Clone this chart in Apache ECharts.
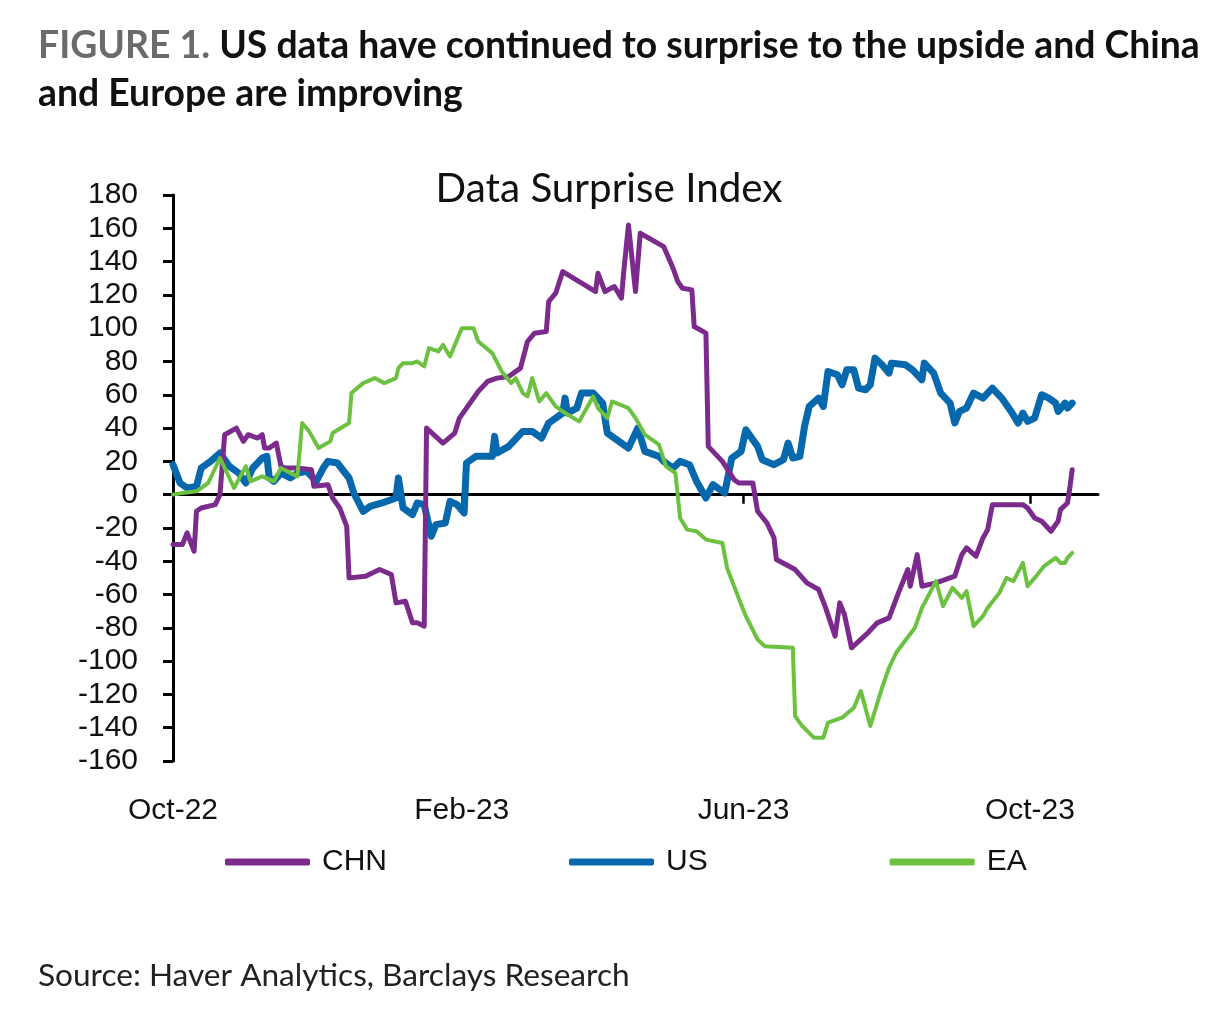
<!DOCTYPE html>
<html><head><meta charset="utf-8">
<script src="https://cdn.jsdelivr.net/npm/echarts@6/dist/echarts.min.js"></script>
<style>html,body{margin:0;padding:0;background:#fff}#c{width:1230px;height:1027px}</style>
</head><body><div id="c"></div>
<script>
// ---- data ----
const tickDates = ['2022-10-01','2023-02-01','2023-06-01','2023-10-01'];
const tickLabels = ['Oct-22','Feb-23','Jun-23','Oct-23'];
const axisStart = '2022-10-01';
const axisEnd = '2023-10-30';
const seriesNames = ['CHN', 'US', 'EA'];

const chnDates = ['2022-10-01','2022-10-05','2022-10-07','2022-10-10','2022-10-11','2022-10-13','2022-10-19','2022-10-21','2022-10-23','2022-10-28','2022-10-31','2022-11-02','2022-11-06','2022-11-08','2022-11-09','2022-11-11','2022-11-14','2022-11-16','2022-11-18','2022-11-23','2022-11-29','2022-11-30','2022-12-06','2022-12-08','2022-12-11','2022-12-14','2022-12-15','2022-12-22','2022-12-28','2023-01-02','2023-01-04','2023-01-08','2023-01-11','2023-01-13','2023-01-16','2023-01-17','2023-01-24','2023-01-29','2023-01-31','2023-02-03','2023-02-08','2023-02-12','2023-02-16','2023-02-21','2023-02-26','2023-03-01','2023-03-04','2023-03-09','2023-03-10','2023-03-13','2023-03-16','2023-03-30','2023-03-31','2023-04-03','2023-04-07','2023-04-10','2023-04-11','2023-04-13','2023-04-16','2023-04-18','2023-04-28','2023-05-02','2023-05-04','2023-05-06','2023-05-10','2023-05-11','2023-05-16','2023-05-17','2023-05-23','2023-05-28','2023-05-30','2023-06-05','2023-06-07','2023-06-11','2023-06-14','2023-06-15','2023-06-23','2023-06-28','2023-07-03','2023-07-06','2023-07-10','2023-07-12','2023-07-14','2023-07-17','2023-07-24','2023-07-28','2023-08-02','2023-08-06','2023-08-10','2023-08-11','2023-08-14','2023-08-16','2023-08-22','2023-08-30','2023-09-02','2023-09-04','2023-09-08','2023-09-11','2023-09-13','2023-09-15','2023-09-28','2023-09-30','2023-10-03','2023-10-06','2023-10-10','2023-10-13','2023-10-14','2023-10-17','2023-10-18','2023-10-19'];
const chnValues = [-30,-30,-23,-34,-10,-8,-6,0,36,40,32,36,34,36,28,28,31,17,16,16,15,5,6,-2,-8,-19,-50,-49,-45,-48,-65,-64,-77,-77,-79,40,31,37,46,52,62,68,70,71,76,92,97,98,116,121,134,122,133,122,125,118,134,162,122,157,149,136,128,124,123,101,97,29,20,9,7,7,-10,-17,-26,-39,-45,-53,-57,-68,-85,-65,-72,-92,-83,-77,-74,-59,-45,-55,-36,-55,-53,-49,-36,-32,-37,-26,-21,-6,-6,-8,-14,-16,-22,-16,-9,-5,4,15];

const usDates = ['2022-10-01','2022-10-04','2022-10-07','2022-10-11','2022-10-13','2022-10-17','2022-10-21','2022-10-25','2022-10-29','2022-11-01','2022-11-04','2022-11-08','2022-11-10','2022-11-11','2022-11-13','2022-11-16','2022-11-20','2022-11-23','2022-11-27','2022-12-01','2022-12-04','2022-12-06','2022-12-10','2022-12-15','2022-12-17','2022-12-21','2022-12-24','2022-12-29','2023-01-04','2023-01-05','2023-01-07','2023-01-11','2023-01-13','2023-01-16','2023-01-19','2023-01-21','2023-01-25','2023-01-27','2023-01-30','2023-02-02','2023-02-03','2023-02-07','2023-02-14','2023-02-15','2023-02-16','2023-02-21','2023-02-27','2023-03-03','2023-03-07','2023-03-10','2023-03-16','2023-03-17','2023-03-18','2023-03-22','2023-03-24','2023-03-29','2023-04-02','2023-04-04','2023-04-13','2023-04-17','2023-04-20','2023-04-26','2023-04-28','2023-05-02','2023-05-05','2023-05-09','2023-05-12','2023-05-16','2023-05-19','2023-05-24','2023-05-27','2023-05-31','2023-06-02','2023-06-07','2023-06-09','2023-06-14','2023-06-18','2023-06-20','2023-06-22','2023-06-25','2023-06-27','2023-06-29','2023-07-03','2023-07-05','2023-07-07','2023-07-11','2023-07-13','2023-07-15','2023-07-18','2023-07-20','2023-07-23','2023-07-25','2023-07-27','2023-07-30','2023-08-02','2023-08-03','2023-08-09','2023-08-12','2023-08-16','2023-08-17','2023-08-21','2023-08-24','2023-08-28','2023-08-30','2023-09-01','2023-09-04','2023-09-07','2023-09-11','2023-09-15','2023-09-19','2023-09-23','2023-09-26','2023-09-28','2023-09-30','2023-10-03','2023-10-06','2023-10-09','2023-10-12','2023-10-13','2023-10-16','2023-10-17','2023-10-19'];
const usValues = [18,7,4,5,16,20,25,17,13,7,16,22,23,10,8,13,10,13,14,8,16,20,19,10,1,-10,-7,-5,-2,10,-8,-12,-5,-6,-25,-18,-17,-4,-6,-11,19,23,23,35,25,29,38,38,34,43,49,58,49,52,61,61,55,37,28,40,26,23,20,16,20,18,8,-2,6,1,22,26,39,29,21,18,21,31,22,23,41,53,58,53,74,72,66,75,75,64,63,66,82,78,73,79,78,75,69,79,73,61,55,43,50,52,61,58,64,58,50,43,49,44,46,60,58,55,50,55,52,55];

const eaDates = ['2022-10-01','2022-10-05','2022-10-11','2022-10-16','2022-10-21','2022-10-24','2022-10-27','2022-11-01','2022-11-03','2022-11-08','2022-11-13','2022-11-16','2022-11-20','2022-11-23','2022-11-25','2022-11-28','2022-12-02','2022-12-07','2022-12-08','2022-12-15','2022-12-16','2022-12-21','2022-12-26','2022-12-30','2023-01-04','2023-01-05','2023-01-07','2023-01-11','2023-01-13','2023-01-16','2023-01-18','2023-01-22','2023-01-24','2023-01-27','2023-02-01','2023-02-06','2023-02-08','2023-02-14','2023-02-18','2023-02-22','2023-02-24','2023-02-27','2023-03-01','2023-03-03','2023-03-06','2023-03-09','2023-03-13','2023-03-17','2023-03-23','2023-03-29','2023-03-31','2023-04-04','2023-04-06','2023-04-13','2023-04-16','2023-04-20','2023-04-26','2023-04-29','2023-05-03','2023-05-05','2023-05-08','2023-05-12','2023-05-16','2023-05-23','2023-05-25','2023-05-31','2023-06-02','2023-06-07','2023-06-10','2023-06-22','2023-06-23','2023-06-26','2023-07-01','2023-07-05','2023-07-07','2023-07-13','2023-07-18','2023-07-21','2023-07-25','2023-07-30','2023-08-02','2023-08-05','2023-08-13','2023-08-16','2023-08-22','2023-08-25','2023-08-29','2023-09-02','2023-09-04','2023-09-07','2023-09-11','2023-09-13','2023-09-18','2023-09-21','2023-09-24','2023-09-28','2023-09-30','2023-10-03','2023-10-07','2023-10-12','2023-10-14','2023-10-16','2023-10-17','2023-10-19'];
const eaValues = [0,1,2,7,22,13,4,17,8,11,8,16,13,11,43,38,28,32,37,43,61,67,70,67,70,76,79,79,80,77,88,86,90,83,100,100,92,85,74,67,70,61,59,70,56,61,53,49,44,59,52,46,56,52,46,36,30,17,13,-14,-21,-22,-27,-29,-44,-66,-73,-87,-91,-92,-133,-139,-146,-146,-137,-134,-128,-118,-139,-116,-104,-95,-80,-68,-52,-67,-56,-62,-58,-79,-73,-68,-59,-50,-52,-41,-55,-50,-43,-38,-41,-41,-38,-35];

// ---- helpers ----
function ts(s){const p=s.split('-');return new Date(+p[0],+p[1]-1,+p[2]).getTime();}
function pairs(d,v){return d.map((s,i)=>[ts(s),v[i]]);}
const ctx = document.createElement('canvas').getContext('2d');
function fit(text, weight, family, target){ctx.font = weight+' 100px '+family; return 100*target/ctx.measureText(text).width;}
function measure(text, weight, size, family){ctx.font = weight+' '+size+'px '+family; return ctx.measureText(text).width;}

const tickTimes = tickDates.map(ts);
const COL_CHN = '#7b2b8c', COL_US = '#0868ad', COL_EA = '#6cc240';
const AX_FONT = 'Liberation Sans';
const HEAD_FONT = 'Lato';

const head1a = 'FIGURE 1.';
const head1b = ' US data have continued to surprise to the upside and China';
const head2 = 'and Europe are improving';
const headSize = fit(head1a + head1b, 'bold', HEAD_FONT, 1162);
const headAW = measure(head1a, 'bold', headSize, HEAD_FONT);
const chartTitle = 'Data Surprise Index';
const titleSize = fit(chartTitle, 'normal', HEAD_FONT, 347);
const source = 'Source: Haver Analytics, Barclays Research';
const srcSize = fit(source, 'normal', HEAD_FONT, 592);

function tickLabel(v){ let best=0; tickTimes.forEach((t,i)=>{ if(Math.abs(t-v)<Math.abs(tickTimes[best]-v)) best=i; }); return tickLabels[best]; }

const chart = echarts.init(document.getElementById('c'));
chart.setOption({
  animation: false,
  backgroundColor: '#fff',
  grid: {left: 173, right: 132, top: 195, bottom: 266, containLabel: false},
  xAxis: [
    {type: 'value', min: ts(axisStart), max: ts(axisEnd), scale: true,
     axisLine: {show: true, onZero: true, lineStyle: {color: '#000', width: 3}},
     axisTick: {show: true, length: 9, customValues: tickTimes, lineStyle: {color: '#000', width: 2.5}},
     axisLabel: {show: false}, splitLine: {show: false}},
    {type: 'value', position: 'bottom', min: ts(axisStart), max: ts(axisEnd), scale: true,
     axisLine: {show: false, onZero: false}, axisTick: {show: false}, splitLine: {show: false},
     axisLabel: {show: true, customValues: tickTimes, fontSize: 30, fontFamily: AX_FONT, color: '#111', margin: 35,
       formatter: tickLabel}}
  ],
  yAxis: {type: 'value', min: -160, max: 180, interval: 20,
    axisLine: {show: true, lineStyle: {color: '#000', width: 3}},
    axisTick: {show: true, length: 10, lineStyle: {color: '#000', width: 3}},
    axisLabel: {fontSize: 30, fontFamily: AX_FONT, color: '#111', margin: 35},
    splitLine: {show: false}},
  legend: {
    data: seriesNames.map(n => ({name: n, icon: 'roundRect', itemStyle: {borderWidth: 0}, lineStyle: {width: 0}})),
    left: 225, top: 847, padding: 0,
    itemWidth: 85, itemHeight: 7, itemGap: 182,
    textStyle: {fontSize: 30, fontFamily: AX_FONT, color: '#111', padding: [0, 0, 0, 7]}
  },
  series: [
    {name: 'US', type: 'line', data: pairs(usDates, usValues), symbol: 'none', xAxisIndex: 0,
     lineStyle: {color: COL_US, width: 7, cap: 'round', join: 'round'}, itemStyle: {color: COL_US}},
    {name: 'CHN', type: 'line', data: pairs(chnDates, chnValues), symbol: 'none', xAxisIndex: 0,
     lineStyle: {color: COL_CHN, width: 5, cap: 'round', join: 'round'}, itemStyle: {color: COL_CHN}},
    {name: 'EA', type: 'line', data: pairs(eaDates, eaValues), symbol: 'none', xAxisIndex: 0,
     lineStyle: {color: COL_EA, width: 4, cap: 'round', join: 'round'}, itemStyle: {color: COL_EA}}
  ],
  graphic: [
    {type: 'text', left: 38, top: 50 - headSize*0.6, style: {text: head1a, font: 'bold ' + headSize + 'px ' + HEAD_FONT, fill: '#6b6b6b'}},
    {type: 'text', left: 38 + headAW, top: 50 - headSize*0.6, style: {text: head1b, font: 'bold ' + headSize + 'px ' + HEAD_FONT, fill: '#111'}},
    {type: 'text', left: 38, top: 98 - headSize*0.6, style: {text: head2, font: 'bold ' + headSize + 'px ' + HEAD_FONT, fill: '#111'}},
    {type: 'text', x: 609, y: 189, style: {text: chartTitle, font: titleSize + 'px ' + HEAD_FONT, fill: '#111', align: 'center', verticalAlign: 'middle'}},
    {type: 'text', left: 38, top: 979 - srcSize*0.6, style: {text: source, font: srcSize + 'px ' + HEAD_FONT, fill: '#222'}}
  ]
});
</script></body></html>
